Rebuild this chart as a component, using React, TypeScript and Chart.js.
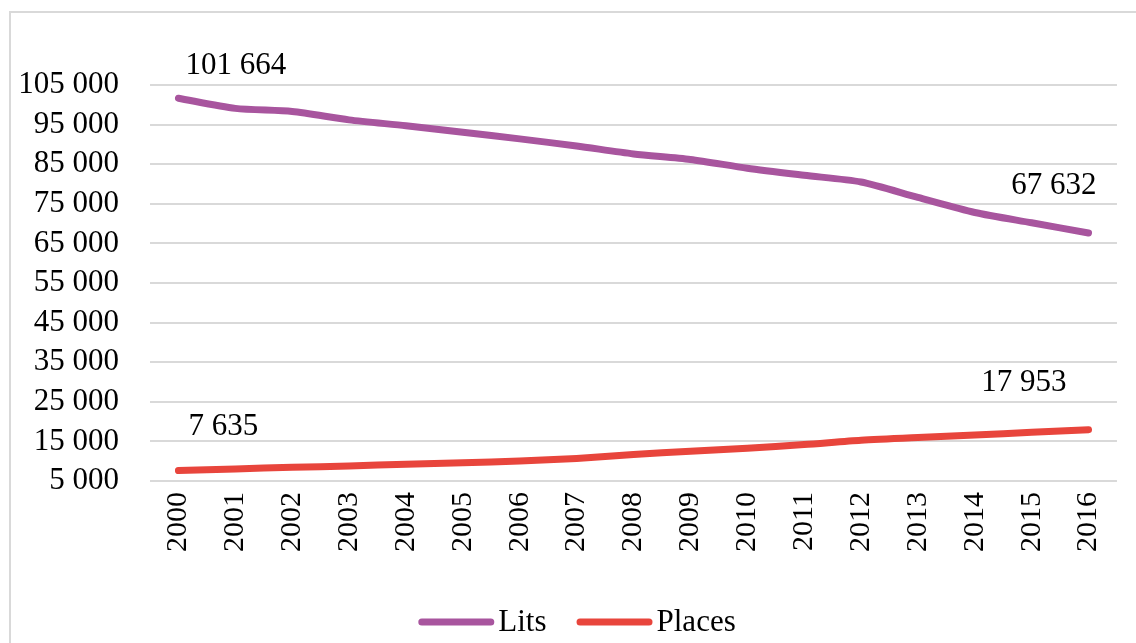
import React, { useEffect, useRef } from 'react';
import { Chart, registerables } from 'chart.js';

Chart.register(...registerables);

const years = ['2000', '2001', '2002', '2003', '2004', '2005', '2006', '2007', '2008', '2009', '2010', '2011', '2012', '2013', '2014', '2015', '2016'];
const lits = [101664, 99100, 98300, 96200, 94700, 93050, 91400, 89600, 87600, 86200, 84000, 82200, 80500, 76600, 72800, 70200, 67632];
const places = [7635, 8050, 8450, 8800, 9250, 9600, 10050, 10700, 11700, 12500, 13300, 14200, 15300, 16000, 16600, 17300, 17953];
const seriesNames = ['Lits', 'Places'];
const seriesColors = ['#A8559E', '#E8453C'];
const yMin = 5000;
const yMax = 105000;
const yStep = 10000;

const FONT = "'Liberation Serif', 'Times New Roman', serif";

function fmt(v: number): string {
  return Math.round(v).toString().replace(/\B(?=(\d{3})+(?!\d))/g, ' ');
}

const endLabels = {
  id: 'endLabels',
  afterDatasetsDraw(chart: any) {
    const { ctx } = chart;
    const specs = [
      { ds: 0, first: true, align: 'left', dx: 7, dy: -32 },
      { ds: 0, first: false, align: 'right', dx: 8, dy: -47 },
      { ds: 1, first: true, align: 'left', dx: 10, dy: -44 },
      { ds: 1, first: false, align: 'right', dx: -22, dy: -47 },
    ];
    ctx.save();
    ctx.font = `31px ${FONT}`;
    ctx.fillStyle = '#000';
    ctx.textBaseline = 'middle';
    for (const s of specs) {
      const meta = chart.getDatasetMeta(s.ds);
      const data = chart.data.datasets[s.ds].data as number[];
      const i = s.first ? 0 : data.length - 1;
      const pt = meta.data[i];
      ctx.textAlign = s.align;
      ctx.fillText(fmt(data[i]), pt.x + s.dx, pt.y + s.dy);
    }
    ctx.restore();
  },
};

const lineLegend = {
  id: 'lineLegend',
  afterDraw(chart: any) {
    const { ctx } = chart;
    ctx.save();
    ctx.font = `31px ${FONT}`;
    const lineLen = 76;
    const gap = 4;
    const itemGap = 30;
    const items = chart.data.datasets.map((d: any) => ({
      text: d.label as string,
      color: d.borderColor as string,
      w: ctx.measureText(d.label).width,
    }));
    const total = items.reduce((s: number, it: any) => s + lineLen + gap + it.w, 0) + itemGap * (items.length - 1);
    let x = (chart.width + 18) / 2 - total / 2;
    const y = chart.height - 21;
    ctx.textBaseline = 'middle';
    ctx.textAlign = 'left';
    for (const it of items) {
      ctx.strokeStyle = it.color;
      ctx.lineWidth = 7;
      ctx.lineCap = 'round';
      ctx.beginPath();
      ctx.moveTo(x + 3.5, y);
      ctx.lineTo(x + lineLen - 3.5, y);
      ctx.stroke();
      ctx.fillStyle = '#000';
      ctx.fillText(it.text, x + lineLen + gap, y + 1);
      x += lineLen + gap + it.w + itemGap;
    }
    ctx.restore();
  },
};

export default function App() {
  const canvasRef = useRef<HTMLCanvasElement | null>(null);

  useEffect(() => {
    if (!canvasRef.current) return;
    const chart = new Chart(canvasRef.current, {
      type: 'line',
      data: {
        labels: years,
        datasets: [
          {
            label: seriesNames[0],
            data: lits,
            borderColor: seriesColors[0],
            backgroundColor: seriesColors[0],
            borderWidth: 7,
            borderCapStyle: 'round',
            borderJoinStyle: 'round',
            pointRadius: 0,
            tension: 0.25,
          },
          {
            label: seriesNames[1],
            data: places,
            borderColor: seriesColors[1],
            backgroundColor: seriesColors[1],
            borderWidth: 7,
            borderCapStyle: 'round',
            borderJoinStyle: 'round',
            pointRadius: 0,
            tension: 0.25,
          },
        ],
      },
      options: {
        responsive: false,
        animation: false,
        devicePixelRatio: 1,
        layout: { padding: { top: 85, right: 16, bottom: 0, left: 0 } },
        plugins: {
          legend: { display: false },
          tooltip: { enabled: false },
          title: { display: false },
        },
        scales: {
          x: {
            offset: true,
            grid: { display: false, drawTicks: false },
            border: { display: false },
            ticks: {
              autoSkip: false,
              maxRotation: 90,
              minRotation: 90,
              padding: 11,
              color: '#000',
              font: { family: FONT, size: 30 },
            },
            afterFit(scale: any) {
              scale.height = 162;
            },
          },
          y: {
            min: yMin,
            max: yMax,
            grid: { color: '#d9d9d9', lineWidth: 2, drawTicks: false },
            border: { display: false },
            ticks: {
              stepSize: yStep,
              autoSkip: false,
              padding: 31,
              color: '#000',
              font: { family: FONT, size: 31 },
              callback: (v: any) => fmt(Number(v)),
            },
            afterFit(scale: any) {
              scale.width = 150;
            },
          },
        },
      },
      plugins: [endLabels, lineLegend],
    });
    return () => chart.destroy();
  }, []);

  return (
    <div style={{ position: 'absolute', left: 0, top: 0, width: 1136, height: 643, overflow: 'hidden', background: '#fff' }}>
      <div
        style={{
          position: 'absolute',
          left: 9,
          top: 11,
          width: 1200,
          height: 700,
          borderLeft: '2px solid #d9d9d9',
          borderTop: '2px solid #d9d9d9',
        }}
      />
      <canvas ref={canvasRef} width={1136} height={643} style={{ position: 'absolute', left: 0, top: 0, width: 1136, height: 643 }} />
    </div>
  );
}
